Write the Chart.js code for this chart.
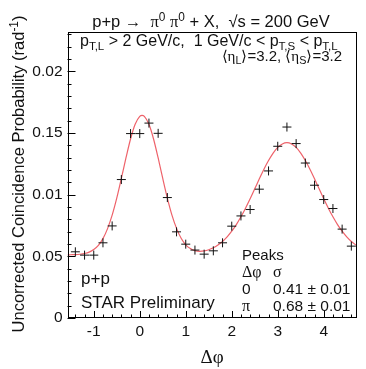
<!DOCTYPE html>
<html>
<head>
<meta charset="utf-8">
<script src="https://cdn.jsdelivr.net/npm/chart.js@4.4.1/dist/chart.umd.min.js"></script>
<style>
  html, body { margin: 0; padding: 0; background: #fff; }
  #wrap { width: 366px; height: 369px; }
</style>
</head>
<body>
<div id="wrap"><canvas id="chart"></canvas></div>
<script>
// measured points (delta phi bin centres, probability)
const dphi = [-1.4, -1.2, -1.0, -0.8, -0.6, -0.4, -0.2, 0.0, 0.2, 0.4, 0.6, 0.8, 1.0, 1.2, 1.4, 1.6,
              1.8, 2.0, 2.2, 2.4, 2.6, 2.8, 3.0, 3.2, 3.4, 3.6, 3.8, 4.0, 4.2, 4.4, 4.6];
const prob = [0.00537, 0.00510, 0.00510, 0.00610, 0.00747, 0.01123, 0.01496, 0.01496, 0.01581, 0.01498,
              0.00977, 0.00699, 0.00599, 0.00551, 0.00518, 0.00545, 0.00610, 0.00745, 0.00828, 0.00880,
              0.01045, 0.01193, 0.01393, 0.01549, 0.01415, 0.01257, 0.01077, 0.00961, 0.00888, 0.00721, 0.00583];

// fit curve
const fitX = [-1.57, -1.5, -1.4, -1.3, -1.2, -1.1, -1.0, -0.9, -0.8, -0.7, -0.6, -0.5, -0.4, -0.3, -0.2, -0.1,
              0.0, 0.05, 0.1, 0.2, 0.3, 0.4, 0.5, 0.6, 0.7, 0.8, 0.9, 1.0, 1.1, 1.2, 1.3, 1.4, 1.5, 1.6, 1.7,
              1.8, 1.9, 2.0, 2.1, 2.2, 2.3, 2.4, 2.5, 2.6, 2.7, 2.8, 2.9, 3.0, 3.1, 3.2, 3.3, 3.4, 3.5, 3.6,
              3.7, 3.8, 3.9, 4.0, 4.1, 4.2, 4.3, 4.4, 4.5, 4.6, 4.7];
const fitY = [0.00512, 0.00513, 0.00514, 0.00517, 0.00523, 0.00534, 0.00555, 0.00589, 0.00644, 0.00725, 0.00834,
              0.00972, 0.01132, 0.01298, 0.01452, 0.01571, 0.01636, 0.01644, 0.01636, 0.01571, 0.01452, 0.01298,
              0.01132, 0.00973, 0.00835, 0.00727, 0.00647, 0.00594, 0.00563, 0.00546, 0.00541, 0.00544, 0.00554,
              0.00570, 0.00592, 0.00621, 0.00658, 0.00704, 0.00758, 0.00821, 0.00891, 0.00968, 0.01048, 0.01129,
              0.01207, 0.01277, 0.01338, 0.01384, 0.01412, 0.01422, 0.01412, 0.01384, 0.01338, 0.01277, 0.01207,
              0.01129, 0.01048, 0.00968, 0.00891, 0.00821, 0.00758, 0.00704, 0.00658, 0.00621, 0.00592];

const xTicks = [-1, 0, 1, 2, 3, 4];
const xTickLabels = ['-1', '0', '1', '2', '3', '4'];
const yTicks = [0, 0.005, 0.01, 0.015, 0.02];
const yTickLabels = ['0', '0.05', '0.01', '0.15', '0.02'];   // as printed on the original

const SANS = '"Liberation Sans", Arial, sans-serif';
const SERIF = '"Liberation Serif", serif';

// draws a line of text made of pieces, some sub/superscript
function richText(ctx, x, y, segs, size, align) {
    let w = 0;
    const parts = segs.map(s => {
        const sz = (s.sub || s.sup) ? size * 0.72 : size;
        const font = sz + 'px ' + (s.serif ? SERIF : SANS);
        ctx.font = font;
        const pw = ctx.measureText(s.t).width;
        w += pw;
        return { s: s, font: font, w: pw };
    });
    let cx = align === 'right' ? x - w : (align === 'center' ? x - w / 2 : x);
    ctx.textAlign = 'left';
    ctx.textBaseline = 'alphabetic';
    parts.forEach(p => {
        ctx.font = p.font;
        let dy = 0;
        if (p.s.sub) dy = size * 0.22;
        if (p.s.sup) dy = -size * 0.38;
        ctx.fillText(p.s.t, cx, y + dy);
        cx += p.w;
    });
}

const rootStyle = {
    id: 'rootStyle',
    afterDatasetsDraw(chart) {
        const ctx = chart.ctx;
        const a = chart.chartArea;
        const xs = chart.scales.x, ys = chart.scales.y;
        ctx.save();
        ctx.strokeStyle = '#000';
        ctx.lineWidth = 1;
        // frame
        ctx.strokeRect(Math.round(a.left) + 0.5, Math.round(a.top) + 0.5,
                       Math.round(a.right - a.left) - 1, Math.round(a.bottom - a.top) - 1);
        ctx.beginPath();
        // x ticks, inward
        for (let v = -1.4; v < xs.max; v += 0.2) {
            const px = Math.round(xs.getPixelForValue(v)) + 0.5;
            const major = Math.abs(v - Math.round(v)) < 1e-6;
            ctx.moveTo(px, a.bottom);
            ctx.lineTo(px, a.bottom - (major ? 7 : 3.5));
        }
        // y ticks, inward
        for (let i = 0; i <= 23; i++) {
            const v = i * 0.001;
            if (v > ys.max) break;
            const py = Math.round(ys.getPixelForValue(v)) + 0.5;
            const major = i % 5 === 0;
            ctx.moveTo(a.left, py);
            ctx.lineTo(a.left + (major ? 8 : 4), py);
        }
        ctx.stroke();

        ctx.fillStyle = '#111';
        // title
        richText(ctx, 211, 27, [
            { t: 'p+p \u2192  ' }, { t: '\u03c0', serif: true }, { t: '0', sup: true },
            { t: ' ' }, { t: '\u03c0', serif: true }, { t: '0', sup: true },
            { t: ' + X,  \u221as = 200 GeV' }
        ], 16.5, 'center');
        // cuts
        richText(ctx, 80, 46, [
            { t: 'p' }, { t: 'T,L', sub: true }, { t: ' > 2 GeV/c,  1 GeV/c < p' }, { t: 'T,S', sub: true },
            { t: ' < p' }, { t: 'T,L', sub: true }
        ], 16, 'left');
        richText(ctx, 342, 61, [
            { t: '\u27e8' }, { t: '\u03b7', serif: true }, { t: 'L', sub: true }, { t: '\u27e9=3.2, \u27e8' },
            { t: '\u03b7', serif: true }, { t: 'S', sub: true }, { t: '\u27e9=3.2' }
        ], 15, 'right');

        ctx.font = '17px ' + SANS;
        ctx.textAlign = 'left';
        ctx.fillText('p+p', 81, 284);
        ctx.fillText('STAR Preliminary', 81, 308);

        // peaks table
        ctx.font = '15px ' + SANS;
        ctx.fillText('Peaks', 242, 260);
        richText(ctx, 242, 277, [{ t: '\u0394\u03c6', serif: true }], 16, 'left');
        richText(ctx, 273, 277, [{ t: '\u03c3', serif: true }], 16, 'left');
        ctx.font = '15.5px ' + SANS;
        ctx.fillText('0', 242, 294);
        ctx.fillText('0.41 \u00b1 0.01', 273, 294);
        richText(ctx, 242, 311, [{ t: '\u03c0', serif: true }], 16, 'left');
        ctx.font = '15.5px ' + SANS;
        ctx.fillText('0.68 \u00b1 0.01', 273, 311);

        // axis titles
        richText(ctx, 212, 363, [{ t: '\u0394\u03c6', serif: true }], 19, 'center');
        ctx.save();
        ctx.translate(24, 174);
        ctx.rotate(-Math.PI / 2);
        richText(ctx, 0, 0, [
            { t: 'Uncorrected Coincidence Probability (rad' }, { t: '-1', sup: true }, { t: ')' }
        ], 16.5, 'center');
        ctx.restore();
        ctx.restore();
    }
};

const points = dphi.map((x, i) => ({ x: x, y: prob[i] }));
const fitLine = fitX.map((x, i) => ({ x: x, y: fitY[i] }));

new Chart(document.getElementById('chart'), {
    type: 'scatter',
    data: {
        datasets: [
            {
                label: 'data',
                data: points,
                pointStyle: 'cross',
                pointRadius: 4.5,
                borderColor: '#111',
                borderWidth: 1,
                order: 1
            },
            {
                label: 'fit',
                data: fitLine,
                showLine: true,
                pointRadius: 0,
                borderColor: 'rgba(235, 70, 80, 0.85)',
                borderWidth: 1.2,
                cubicInterpolationMode: 'monotone',
                order: 2
            }
        ]
    },
    options: {
        responsive: true,
        maintainAspectRatio: false,
        animation: false,
        layout: { padding: { top: 32, right: 9.5, left: 0, bottom: 0 } },
        plugins: {
            legend: { display: false },
            tooltip: { enabled: false }
        },
        scales: {
            x: {
                type: 'linear',
                min: -Math.PI / 2,
                max: 3 * Math.PI / 2,
                afterBuildTicks: s => { s.ticks = xTicks.map(v => ({ value: v })); },
                afterFit: s => { s.height = 51; },
                ticks: {
                    callback: v => xTickLabels[xTicks.indexOf(v)],
                    font: { family: SANS, size: 15.5 },
                    color: '#111',
                    padding: 4,
                    maxRotation: 0
                },
                grid: { display: false, drawTicks: false },
                border: { display: false }
            },
            y: {
                min: 0,
                max: 0.0232,
                afterBuildTicks: s => { s.ticks = yTicks.map(v => ({ value: v })); },
                afterFit: s => { s.width = 67.5; },
                ticks: {
                    callback: v => yTickLabels[yTicks.indexOf(v)],
                    font: { family: SANS, size: 15.5 },
                    color: '#111',
                    padding: 5
                },
                grid: { display: false, drawTicks: false },
                border: { display: false }
            }
        }
    },
    plugins: [rootStyle]
});
</script>
</body>
</html>
